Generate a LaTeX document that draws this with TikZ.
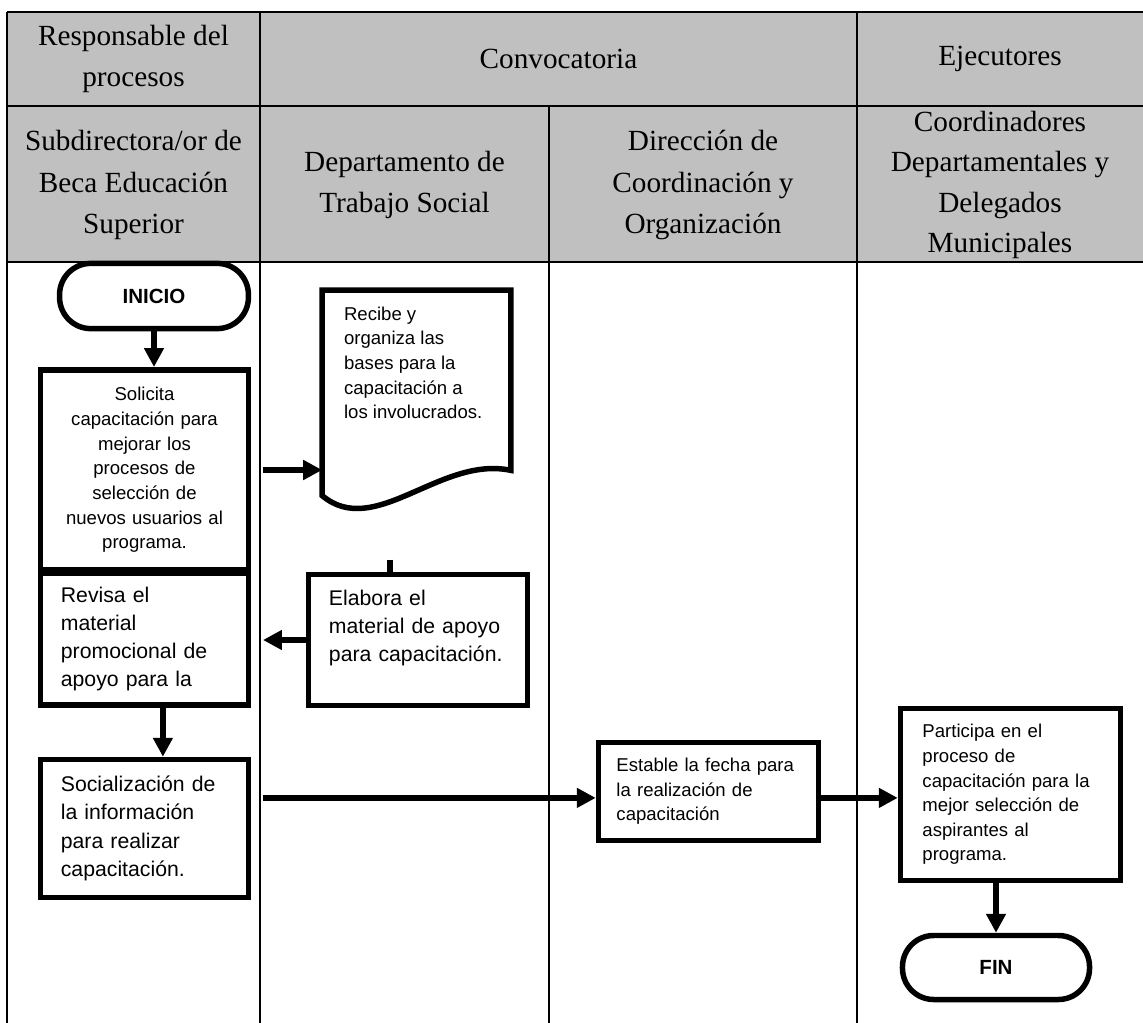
\documentclass[tikz,border=0pt]{standalone}
\usepackage{fontspec}
\setmainfont{Liberation Serif}
\setsansfont{Liberation Sans}
\usepackage{tikz}
\usetikzlibrary{arrows.meta,positioning,calc}
\definecolor{headgray}{HTML}{C0C0C0}
\tikzset{
  laneline/.style={line width=1.5pt, draw=black},
  headtext/.style={font=\fontsize{20.8}{29.7}\selectfont, align=center, inner sep=0pt},
  terminal/.style={rectangle, rounded corners=0.78cm, draw=black, line width=3.9pt, fill=white,
    font=\sffamily\bfseries\fontsize{14.6}{17}\selectfont,
    minimum width=#1, minimum height=1.63cm},
  terminal/.default=4.72cm,
  stepbox/.style={rectangle, draw=black, line width=3.9pt, fill=white, align=left,
    inner xsep=0.51cm, inner ysep=0pt, text width=#1},
  stepbox/.default=4.18cm,
  docline/.style={draw=black, line width=3.9pt, line join=miter},
  bigtext/.style={font=\sffamily\fontsize{15.1}{20.1}\selectfont},
  smalltext/.style={font=\sffamily\fontsize{13.2}{17.5}\selectfont},
  flowarrow/.style={-{Triangle[length=13.5pt, width=13.5pt]}, line width=4pt, draw=black},
}
\begin{document}
\begin{tikzpicture}[x=0.025cm, y=-0.025cm]
  \useasboundingbox (0,0) rectangle (1143,1023);
  \fill[headgray] (7,12) rectangle (1143,262);
  \draw[laneline] (7,12) -- (1143,12) (7,106) -- (1143,106) (7,262) -- (1143,262);
  \draw[laneline] (7,12) -- (7,1023) (260,12) -- (260,1023) (857,12) -- (857,1023) (549,106) -- (549,1023);
  \coordinate (sepA) at (263,262);
  \node[headtext] (hresp) at (133.5,59) {Responsable del\\procesos};
  \node[headtext] (hconv) at (558.5,59) {Convocatoria};
  \node[headtext] (hejec) at (1000,59) {Ejecutores};
  \node[headtext] (hsub) at (133.5,185) {Subdirectora/or de\\Beca Educación\\Superior};
  \node[headtext] (hdep) at (404.5,185) {Departamento de\\Trabajo Social};
  \node[headtext] (hdir) at (703,185) {Dirección de\\Coordinación y\\Organización};
  \node[headtext, font=\fontsize{20.8}{28.9}\selectfont] (hcoord) at (1000,185) {Coordinadores\\Departamentales y\\Delegados\\Municipales};
  \node[terminal] (inicio) at (154,296) {INICIO};
  \node[stepbox, smalltext, align=center, minimum height=5.01cm] (solicita) at (144.5,470) {Solicita\\capacitación para\\mejorar los\\procesos de\\selección de\\nuevos usuarios al\\programa.};
  \node[stepbox, bigtext, minimum height=3.3cm] (revisa) at (144.5,639) {Revisa el\\material\\promocional de\\apoyo para la};
  \node[stepbox, bigtext, minimum height=3.45cm] (social) at (144.5,828.5) {Socialización de\\la información\\para realizar\\capacitación.};
  \node[minimum width=4.7cm, minimum height=4.49cm] (recibe) at (416.5,380.25) {};
  \draw[docline] (recibe.south east) -- (recibe.north east) -- (recibe.north west) -- ++(0,205.5) .. controls +(52.5,44) and +(-70.5,-15) .. (recibe.south east) -- cycle;
  \node[smalltext, align=left, anchor=north west, inner sep=0pt] (recibetxt) at ([xshift=0.54cm, yshift=-0.41cm]recibe.north west) {Recibe y\\organiza las\\bases para la\\capacitación a\\los involucrados.};
  \node[stepbox=4.45cm, bigtext, minimum height=3.275cm] (elabora) at (418,640) {Elabora el\\material de apoyo\\para capacitación.\\\mbox{}};
  \node[stepbox=4.6cm, smalltext, inner xsep=0.45cm, minimum height=2.45cm] (estable) at (708.5,791.5) {Estable la fecha para\\la realización de\\capacitación};
  \node[stepbox=4.4cm, smalltext, inner xsep=0.55cm, minimum height=4.3cm] (participa) at (1010.5,794.5) {Participa en el\\proceso de\\capacitación para la\\mejor selección de\\aspirantes al\\programa.};
  \node[terminal=4.675cm, minimum height=1.6cm] (fin) at (996,967.5) {FIN};
  \draw[flowarrow] (inicio.south) -- (inicio.south |- solicita.north);
  \draw[flowarrow] (solicita -| sepA) -- (solicita -| recibe.west);
  \coordinate (stub) at ([xshift=-0.7cm, yshift=0.3cm]elabora.north);
  \draw[line width=4pt] (stub) -- (stub |- elabora.north);
  \draw[flowarrow] (elabora.west) -- (elabora.west -| sepA);
  \draw[flowarrow] ([xshift=0.46cm]revisa.south) -- ([xshift=0.46cm]social.north);
  \coordinate (socin) at ([yshift=-0.16cm]estable.west);
  \draw[flowarrow] (socin -| sepA) -- (socin);
  \draw[flowarrow] (estable.east |- socin) -- (participa.west |- socin);
  \draw[flowarrow] (participa.south -| fin.north) -- (fin.north);
\end{tikzpicture}
\end{document}
